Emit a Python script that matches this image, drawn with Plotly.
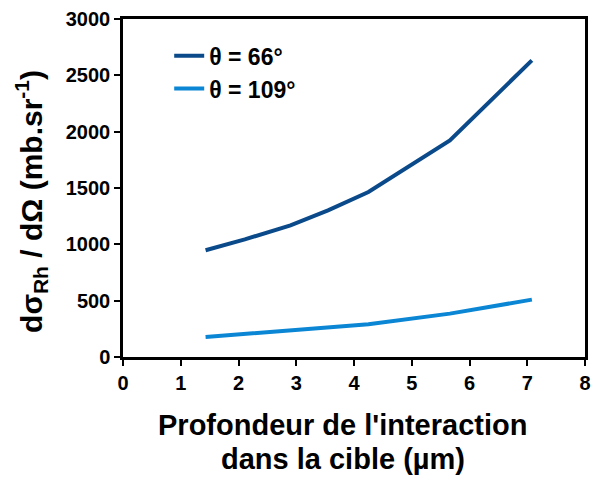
import plotly.graph_objects as go

depth_um = [1.43, 2.11, 2.9, 3.55, 4.25, 5.66, 7.08]
theta66 = [947, 1044, 1169, 1302, 1464, 1923, 2633]
theta109 = [178, 203, 235, 258, 290, 385, 509]
series_names = ["θ = 66°", "θ = 109°"]
colors = ["#0B4A8A", "#0A86D4"]
x_title_lines = ["Profondeur de l'interaction", "dans la cible (µm)"]
y_title = "dσ<sub>Rh</sub> / dΩ (mb.sr<sup>-1</sup>)"

font = "Liberation Sans, Arial, sans-serif"

fig = go.Figure()
for name, ys, c in zip(series_names, [theta66, theta109], colors):
    fig.add_trace(go.Scatter(x=depth_um, y=ys, mode="lines", name=name,
                             line=dict(color=c, width=4)))

fig.update_layout(
    width=591, height=479,
    margin=dict(l=123, r=6, t=19, b=122),
    paper_bgcolor="white", plot_bgcolor="white",
    font=dict(family=font, color="black"),
    showlegend=True,
    legend=dict(x=0.10, y=0.955, xanchor="left", yanchor="top",
                bgcolor="rgba(0,0,0,0)",
                font=dict(size=23, family=font, color="black", weight="bold"),
                itemwidth=30, tracegroupgap=0),
)
fig.update_xaxes(
    range=[0, 8], dtick=1, showgrid=False, zeroline=False, automargin=False,
    showline=True, linecolor="black", linewidth=2.5, mirror=True,
    ticks="outside", ticklen=6, tickwidth=2, tickcolor="black",
    ticklabeloverflow="allow",
    tickfont=dict(size=20, family=font, weight="bold"),
)
fig.update_yaxes(
    range=[0, 3000], dtick=500, showgrid=False, zeroline=False, automargin=False,
    showline=True, linecolor="black", linewidth=2.5, mirror=True,
    ticks="outside", ticklen=6, tickwidth=2, tickcolor="black",
    ticklabeloverflow="allow",
    tickfont=dict(size=20, family=font, weight="bold"),
)
fig.add_annotation(text="<b>" + x_title_lines[0] + "</b>", xref="paper", yref="paper",
                   x=0.476, y=-0.2, xanchor="center", yanchor="middle",
                   showarrow=False, font=dict(size=29, family=font, color="black"))
fig.add_annotation(text="<b>" + x_title_lines[1] + "</b>", xref="paper", yref="paper",
                   x=0.476, y=-0.302, xanchor="center", yanchor="middle",
                   showarrow=False, font=dict(size=29, family=font, color="black"))
fig.add_annotation(text="<b>" + y_title + "</b>", xref="paper", yref="paper",
                   x=-0.199, y=0.459, xanchor="center", yanchor="middle",
                   textangle=-90, showarrow=False,
                   font=dict(size=30, family=font, color="black"))
fig.write_html("out.html", config={"displayModeBar": False},
               post_script="document.body.style.margin='0';")
